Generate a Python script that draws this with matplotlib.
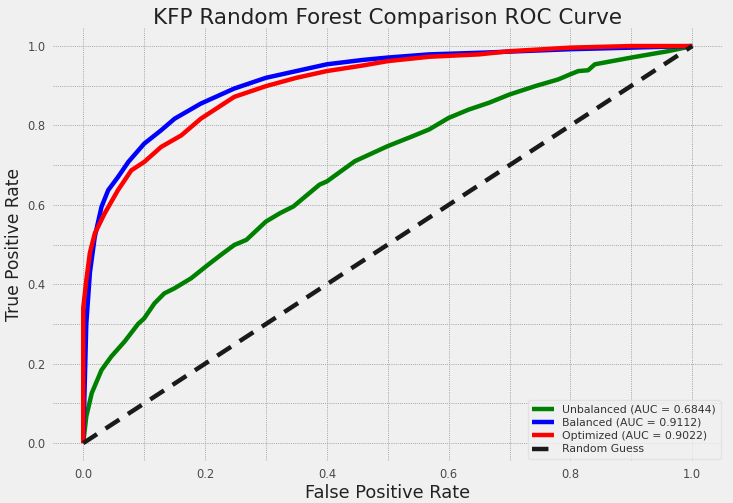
import matplotlib
matplotlib.use("Agg")
import matplotlib.pyplot as plt
from matplotlib.ticker import MultipleLocator

# ROC curve points
fpr_unbal = [0.0, 0.005, 0.014, 0.03, 0.046, 0.068, 0.09, 0.10, 0.117, 0.133, 0.15, 0.177, 0.204,
             0.226, 0.248, 0.268, 0.30, 0.323, 0.345, 0.388, 0.40, 0.446, 0.50, 0.541, 0.568,
             0.60, 0.633, 0.666, 0.70, 0.742, 0.78, 0.80, 0.813, 0.829, 0.84, 0.90, 0.96, 1.0]
tpr_unbal = [0.0, 0.067, 0.126, 0.184, 0.218, 0.256, 0.30, 0.314, 0.352, 0.377, 0.39, 0.415, 0.448,
             0.474, 0.499, 0.512, 0.558, 0.579, 0.596, 0.651, 0.659, 0.71, 0.748, 0.773, 0.79,
             0.819, 0.84, 0.857, 0.878, 0.899, 0.916, 0.929, 0.937, 0.939, 0.954, 0.971, 0.987, 1.0]

fpr_bal = [0.0, 0.005, 0.011, 0.019, 0.030, 0.041, 0.057, 0.074, 0.10, 0.128, 0.15, 0.193, 0.248,
           0.30, 0.35, 0.40, 0.459, 0.50, 0.568, 0.65, 0.80, 0.90, 1.0]
tpr_bal = [0.0, 0.30, 0.43, 0.52, 0.595, 0.637, 0.67, 0.708, 0.754, 0.788, 0.817, 0.855, 0.893,
           0.92, 0.937, 0.954, 0.965, 0.971, 0.979, 0.983, 0.992, 0.996, 1.0]

fpr_opt = [0.0, 0.0, 0.005, 0.011, 0.019, 0.035, 0.057, 0.079, 0.10, 0.128, 0.161, 0.193, 0.248,
           0.30, 0.35, 0.40, 0.459, 0.50, 0.568, 0.65, 0.70, 0.80, 0.90, 1.0]
tpr_opt = [0.0, 0.34, 0.41, 0.48, 0.528, 0.578, 0.637, 0.687, 0.708, 0.746, 0.775, 0.817, 0.872,
           0.899, 0.92, 0.937, 0.951, 0.962, 0.973, 0.979, 0.987, 0.996, 1.0, 1.0]

auc_unbal, auc_bal, auc_opt = 0.6844, 0.9112, 0.9022
diag = [0.0, 1.0]

BG = "#f0f0f0"
fig = plt.figure(figsize=(7.33, 5.03), dpi=100, facecolor=BG)
ax = fig.add_axes([0.072, 0.0835, 0.914, 0.8605])
ax.set_facecolor(BG)

kw = dict(lw=3.2, solid_capstyle="butt")
ax.plot(fpr_unbal, tpr_unbal, color="green", label=f"Unbalanced (AUC = {auc_unbal:.4f})", **kw)
ax.plot(fpr_bal, tpr_bal, color="blue", label=f"Balanced (AUC = {auc_bal:.4f})", **kw)
ax.plot(fpr_opt, tpr_opt, color="red", label=f"Optimized (AUC = {auc_opt:.4f})", **kw)
ax.plot(diag, diag, color="#1a1a1a", lw=3.2, ls=(0, (3.7, 2.3)), label="Random Guess")

ax.set_xlim(-0.05, 1.05)
ax.set_ylim(-0.045, 1.045)
ax.xaxis.set_major_locator(MultipleLocator(0.2))
ax.yaxis.set_major_locator(MultipleLocator(0.2))
ax.xaxis.set_minor_locator(MultipleLocator(0.1))
ax.yaxis.set_minor_locator(MultipleLocator(0.1))
ax.grid(which="both", color="#a6a6a6", ls=(0, (1, 1.2)), lw=0.7)
ax.set_axisbelow(True)
ax.tick_params(which="both", length=0, labelsize=8.3, labelcolor="#4a4a4a", pad=5)
for s in ax.spines.values():
    s.set_visible(False)

ax.set_title("KFP Random Forest Comparison ROC Curve", fontsize=15.5, color="#222222", pad=3)
ax.set_xlabel("False Positive Rate", fontsize=12.8, color="#222222", labelpad=2)
ax.set_ylabel("True Positive Rate", fontsize=12.3, color="#222222", labelpad=3)

leg = ax.legend(loc="lower right", fontsize=7.8, frameon=True, facecolor=BG, edgecolor="#e0e0e0",
                handlelength=2.0, borderaxespad=0.2, labelspacing=0.3)
for t in leg.get_texts():
    t.set_color("#333333")

fig.savefig("out.png", dpi=100, facecolor=BG)
